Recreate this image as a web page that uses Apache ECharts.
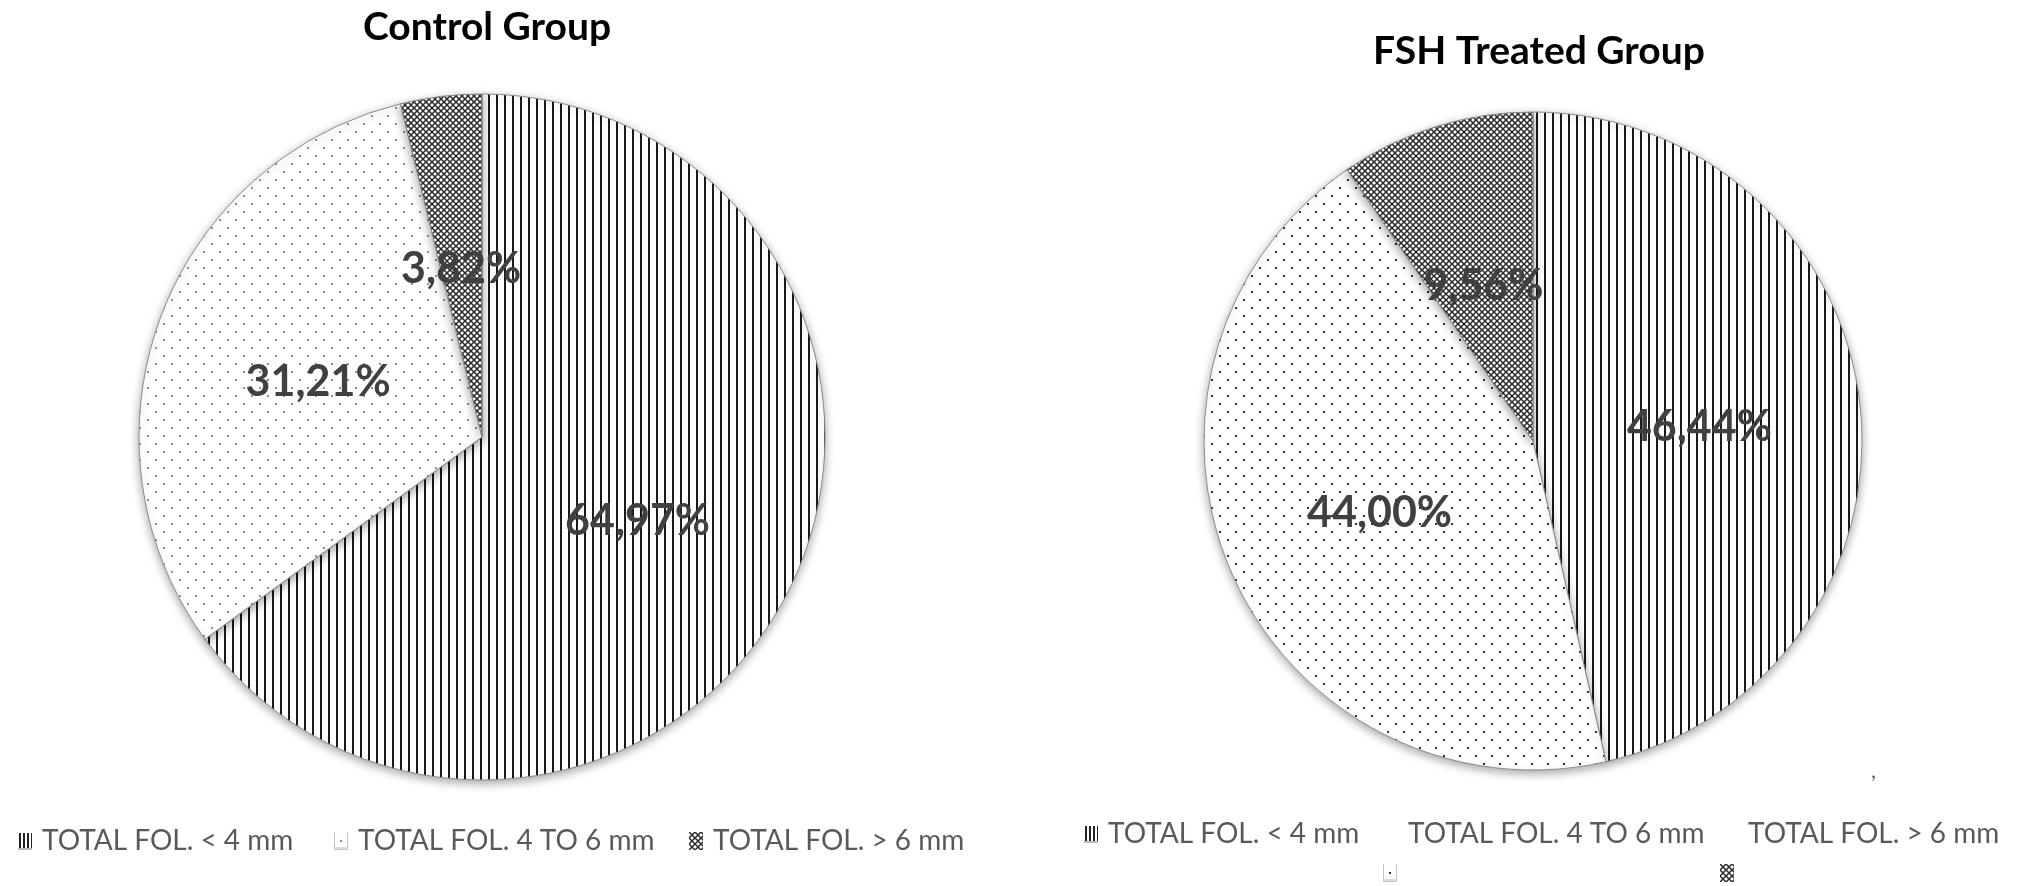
<!DOCTYPE html>
<html>
<head>
<meta charset="utf-8">
<script src="https://cdn.jsdelivr.net/npm/echarts@6/dist/echarts.min.js"></script>
<style>
html,body{margin:0;padding:0;background:#fff;}
#chart{width:2020px;height:886px;}
</style>
</head>
<body>
<div id="chart"></div>
<script>
// ---- data ----
const categories = ['TOTAL FOL. < 4 mm', 'TOTAL FOL. 4 TO 6 mm', 'TOTAL FOL. > 6 mm'];
const controlValues = [64.97, 31.21, 3.82];
const fshValues = [46.44, 44.00, 9.56];
const chartTitles = ['Control Group', 'FSH Treated Group'];

// ---- pattern helpers ----
function mk(w, h) { const c = document.createElement('canvas'); c.width = w; c.height = h; return c; }
function stripeTile() {
  const c = mk(8, 8), g = c.getContext('2d');
  g.fillStyle = '#fff'; g.fillRect(0, 0, 8, 8);
  g.fillStyle = '#1a1a1a'; g.fillRect(0, 0, 2, 8);
  return c;
}
function dotTile(color) {
  const c = mk(16, 16), g = c.getContext('2d');
  g.fillStyle = '#fff'; g.fillRect(0, 0, 16, 16);
  g.fillStyle = color;
  g.fillRect(3, 3, 2, 2); g.fillRect(11, 11, 2, 2);
  return c;
}
function crossTile() {
  const c = mk(6, 6), g = c.getContext('2d');
  g.fillStyle = '#fff'; g.fillRect(0, 0, 6, 6);
  g.strokeStyle = '#2a2a2a'; g.lineWidth = 1.5;
  for (let dx = -6; dx <= 6; dx += 6) {
    g.beginPath(); g.moveTo(dx, 0); g.lineTo(dx + 6, 6); g.stroke();
    g.beginPath(); g.moveTo(dx + 6, 0); g.lineTo(dx, 6); g.stroke();
  }
  return c;
}
const iconW = 14, iconH = 18;
function stripeIcon() {
  const c = mk(iconW, iconH), g = c.getContext('2d');
  g.fillStyle = '#fff'; g.fillRect(0, 0, iconW, iconH);
  g.fillStyle = '#222';
  for (let x = 1; x < iconW; x += 4) g.fillRect(x, 1, 2, iconH - 3);
  g.fillStyle = '#bbb'; g.fillRect(0, iconH - 2, iconW, 2);
  return 'image://' + c.toDataURL();
}
function dotIcon(color) {
  const c = mk(iconW, iconH), g = c.getContext('2d');
  g.fillStyle = '#fff'; g.fillRect(0, 0, iconW, iconH);
  g.strokeStyle = '#c4c4c4'; g.lineWidth = 1;
  g.beginPath(); g.moveTo(0.5, 0); g.lineTo(0.5, iconH - 0.5); g.lineTo(iconW - 0.5, iconH - 0.5); g.lineTo(iconW - 0.5, 0); g.stroke();
  g.fillStyle = '#ddd'; g.fillRect(1, iconH - 3, iconW - 2, 2);
  g.fillStyle = color; g.fillRect(6, 8, 2, 2);
  return 'image://' + c.toDataURL();
}
function crossIcon(tile) {
  const c = mk(iconW, iconH), g = c.getContext('2d');
  g.fillStyle = g.createPattern(tile, 'repeat');
  g.fillRect(0, 0, iconW, iconH);
  return 'image://' + c.toDataURL();
}
const blankIcon = 'image://' + mk(2, 2).toDataURL();

const stripe = stripeTile();
const dotsBlue = dotTile('#6b97d6');
const dotsBlack = dotTile('#333');
const cross = crossTile();

const leftFills = [stripe, dotsBlue, cross];
const rightFills = [stripe, dotsBlack, cross];

function pieData(values, fills) {
  return categories.map((name, i) => ({
    name: name,
    value: values[i],
    itemStyle: { color: { image: fills[i], repeat: 'repeat' } }
  }));
}

const leftIcons = [stripeIcon(), dotIcon('#6b97d6'), crossIcon(cross)];
const rightIcons = [stripeIcon(), dotIcon('#333'), crossIcon(cross)];

const legendText = { fontFamily: 'Lato', fontSize: 28, color: '#595959', padding: [0, 0, 0, 5] };
function oneLegend(name, icon, left, top, showText) {
  return {
    data: [{ name: name, icon: icon }],
    left: left, top: top, padding: 0,
    itemWidth: iconW, itemHeight: iconH,
    selectedMode: false,
    textStyle: legendText,
    formatter: showText ? '{name}' : function () { return ''; }
  };
}

const legends = [
  // left chart legend
  oneLegend(categories[0], leftIcons[0], 18, 827, true),
  oneLegend(categories[1], leftIcons[1], 334, 827, true),
  oneLegend(categories[2], leftIcons[2], 689, 827, true),
  // right chart legend (text row)
  oneLegend(categories[0], rightIcons[0], 1084, 820, true),
  oneLegend(categories[1], blankIcon, 1384, 820, true),
  oneLegend(categories[2], blankIcon, 1724, 820, true),
  // right chart legend (icon row)
  oneLegend(categories[1], rightIcons[1], 1383, 864, false),
  oneLegend(categories[2], rightIcons[2], 1720, 864, false)
];

const labelStyle = {
  show: true,
  position: 'inside',
  formatter: p => p.value.toFixed(2).replace('.', ',') + '%',
  fontFamily: 'Lato',
  fontWeight: 'bold',
  fontSize: 43,
  color: '#404040',
  offset: [0, 5]
};
const sliceStyle = {
  borderColor: '#8c8c8c',
  borderWidth: 1,
  shadowBlur: 10,
  shadowOffsetY: 3,
  shadowColor: 'rgba(0,0,0,0.35)'
};

const chart = echarts.init(document.getElementById('chart'), null, { renderer: 'canvas' });
chart.setOption({
  animation: false,
  backgroundColor: '#fff',
  title: [
    { text: chartTitles[0], left: 482, top: 3, textAlign: 'center',
      textStyle: { fontFamily: 'Lato', fontWeight: 'bold', fontSize: 39, color: '#000' } },
    { text: chartTitles[1], left: 1534, top: 27, textAlign: 'center',
      textStyle: { fontFamily: 'Lato', fontWeight: 'bold', fontSize: 39, color: '#000' } }
  ],
  legend: legends,
  series: [
    {
      type: 'pie', center: [482, 437], radius: 343, startAngle: 90, clockwise: true,
      data: pieData(controlValues, leftFills),
      label: labelStyle, labelLine: { show: false },
      itemStyle: sliceStyle, emphasis: { scale: false }
    },
    {
      type: 'pie', center: [1533, 441], radius: 329, startAngle: 90, clockwise: true,
      data: pieData(fshValues, rightFills),
      label: labelStyle, labelLine: { show: false },
      itemStyle: sliceStyle, emphasis: { scale: false }
    }
  ],
  graphic: [
    { type: 'text', left: 1871, top: 760, style: { text: ',', fontFamily: 'Lato', fontSize: 22, fill: '#595959' } }
  ]
});
</script>
</body>
</html>
